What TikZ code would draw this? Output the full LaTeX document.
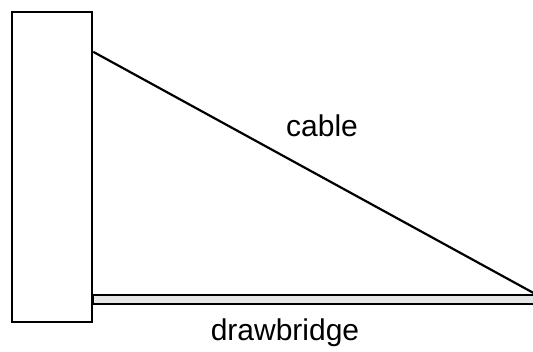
\documentclass[tikz,border=0pt]{standalone}
\usepackage{fontspec}
\setmainfont{Liberation Sans}
\usetikzlibrary{calc}
\definecolor{ink}{HTML}{000000}
\definecolor{deck}{HTML}{E6E6E6}

\begin{document}
\begin{tikzpicture}[
  x=1pt,y=-1pt,
  font=\fontsize{30}{36}\selectfont,
  tower/.style={draw=ink,line width=2.4pt,fill=white,minimum width=80pt,
                minimum height=310pt,inner sep=0pt},
  deckbox/.style={draw=ink,line width=2.4pt,fill=deck,minimum width=441pt,
                  minimum height=9pt,inner sep=0pt,anchor=north west},
  cableline/.style={draw=ink,line width=2.2pt},
  lbl/.style={inner sep=0pt},
]
\useasboundingbox (0,0) rectangle (533,351);

% Tower and deck.
\node[tower] (tower) at (52,167) {};
\node[deckbox] (bridge) at (92,294) {};

% Cable from the tower top to the free end of the deck.
\coordinate (anchorpt) at ($(tower.north east)+(0,41)$);
\draw[cableline] (anchorpt) -- (bridge.north east);

% Labels.
\node[lbl] (cablelbl) at (322,126) {cable};
\node[lbl] (bridgelbl) at (285,333) {drawbridge};

\end{tikzpicture}
\end{document}
